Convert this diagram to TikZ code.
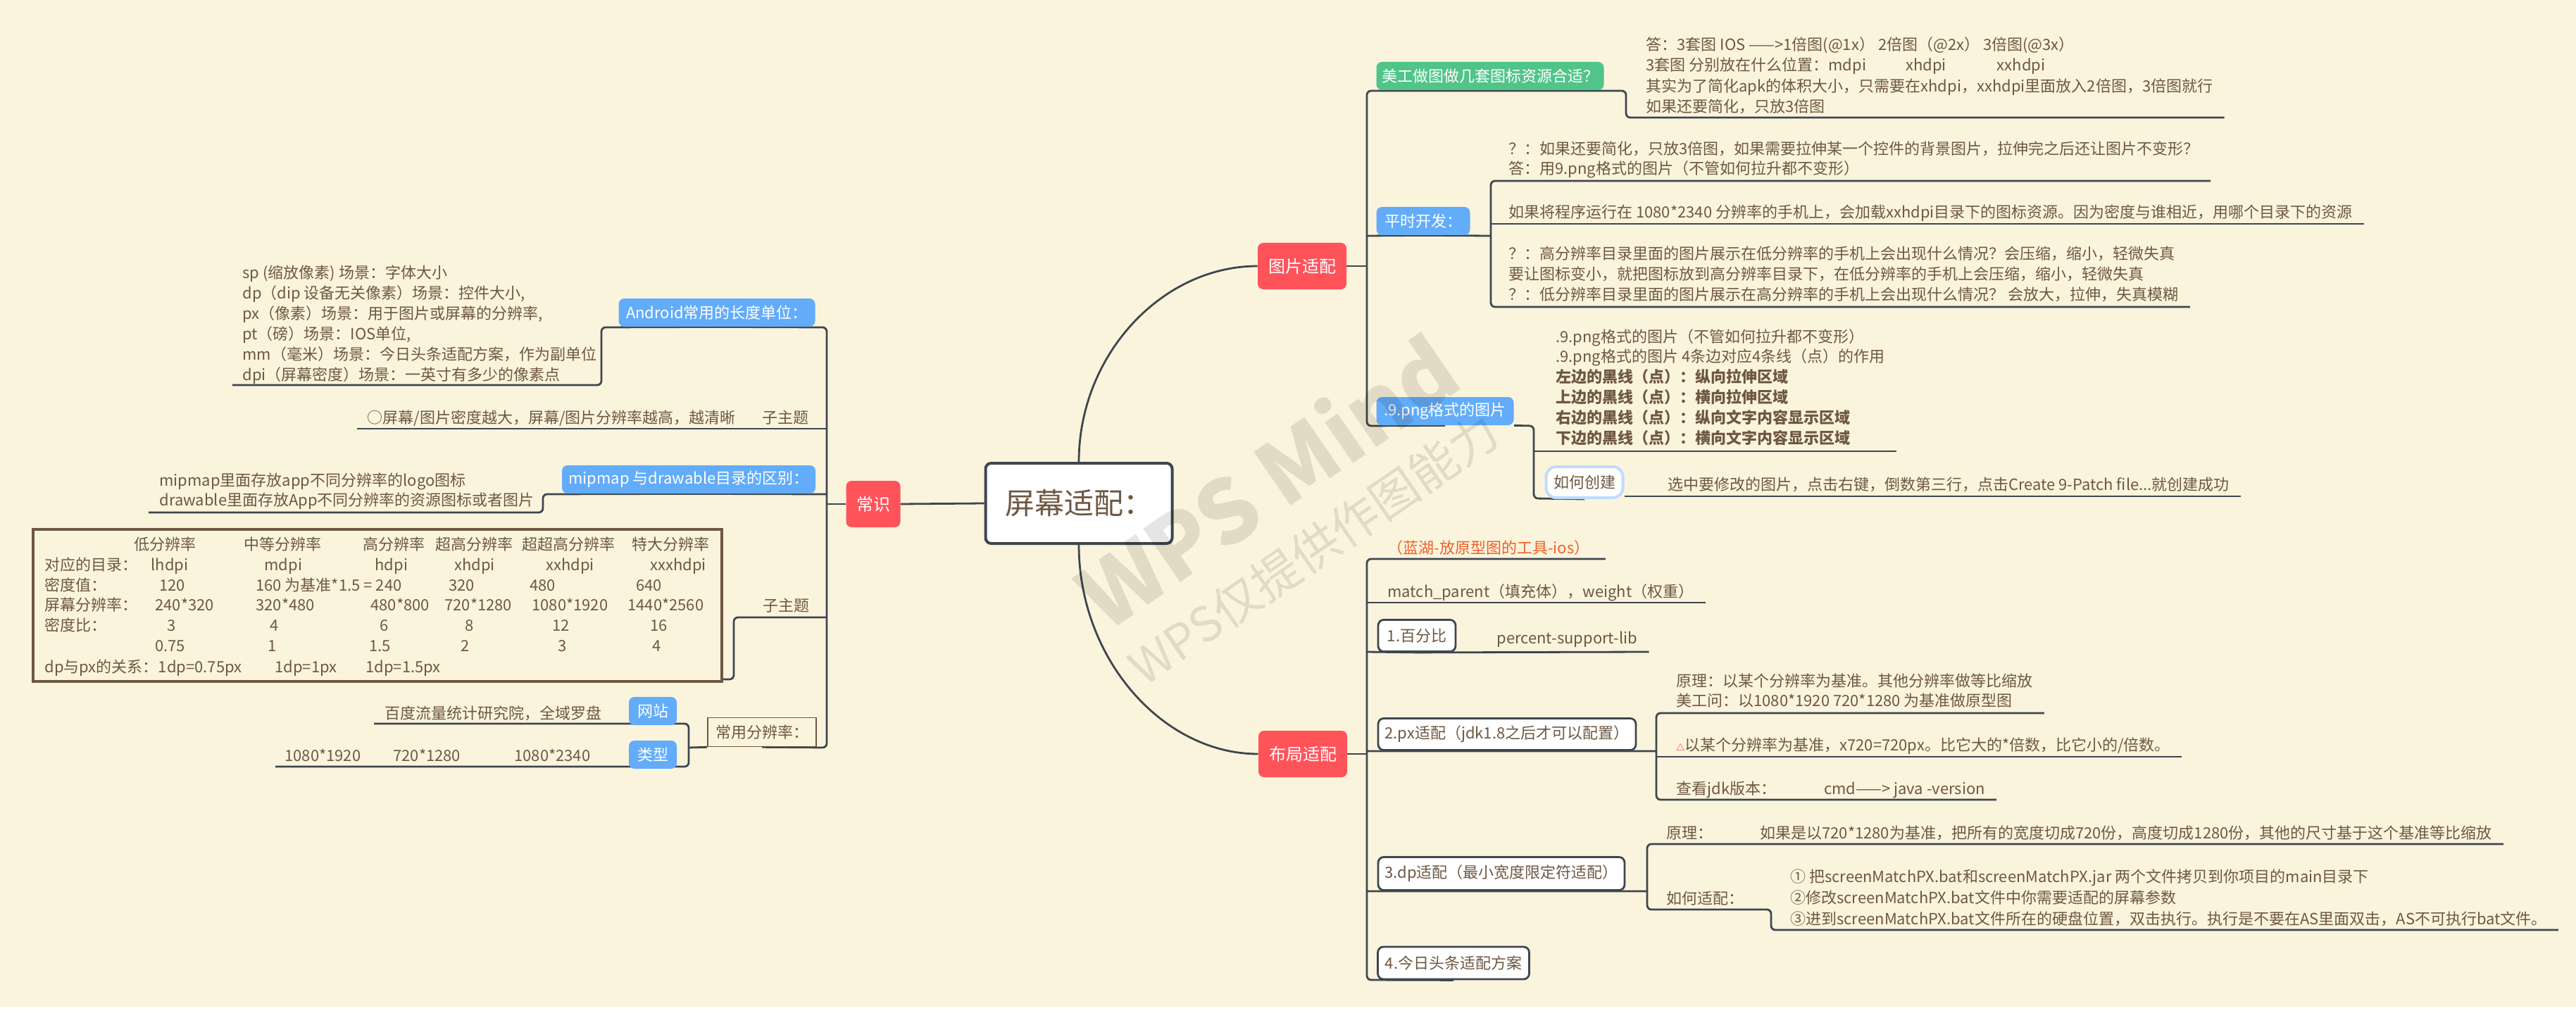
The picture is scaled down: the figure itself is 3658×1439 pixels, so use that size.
\documentclass[tikz,border=0pt]{standalone}
\usepackage{fontspec}
\setmainfont{Noto Sans CJK SC}
\usetikzlibrary{calc}

\definecolor{bgc}{RGB}{251,244,221}
\definecolor{lnk}{RGB}{62,70,78}
\definecolor{txt}{RGB}{110,88,66}
\definecolor{redc}{RGB}{255,83,90}
\definecolor{bluec}{RGB}{98,172,250}
\definecolor{greenc}{RGB}{80,196,137}
\definecolor{hlc}{RGB}{190,220,255}
\definecolor{orc}{RGB}{240,96,40}

\pgfdeclarelayer{bg}
\pgfdeclarelayer{edges}
\pgfdeclarelayer{wm}
\pgfsetlayers{bg,edges,main,wm}

\tikzset{
  link/.style={draw=lnk, line width=1.4pt, rounded corners=3pt},
  topic/.style={rounded corners=4pt, text=white, inner sep=0pt, font=\fontsize{11}{13}\selectfont},
  mainbox/.style={topic, fill=redc, minimum width=63pt, minimum height=33pt, font=\fontsize{12}{14}\selectfont},
  bluebox/.style={topic, fill=bluec, minimum height=20pt},
  greenbox/.style={topic, fill=greenc, minimum height=20pt},
  framebox/.style={topic, fill=white, draw=lnk, line width=1.4pt, text=txt, minimum height=22.5pt},
  leaf/.style={text=txt, font=\fontsize{11}{14.5}\selectfont, align=left, inner sep=0pt, anchor=base west},
  wmark/.style={rotate=34.6, text=black, opacity=0.1}
}

\begin{document}
\begin{tikzpicture}[x=0.5pt, y=-0.5pt]
\begin{pgfonlayer}{bg}
  \fill[white] (0,0) rectangle (3658,1439);
  \fill[bgc] (0,0) rectangle (3658,1430);
\end{pgfonlayer}
\useasboundingbox (0,0) rectangle (3658,1439);

% centre and main topics
\node[draw=lnk, fill=white, line width=2pt, rounded corners=4pt, minimum width=132.5pt, minimum height=57pt, inner sep=0pt, text=txt, font=\fontsize{21}{24}\selectfont] (root) at (1532,715) {屏幕适配：};
\node[mainbox] (pic) at (1849,378) {图片适配};
\node[mainbox] (lay) at (1850,1071) {布局适配};
\node[mainbox, minimum width=38.5pt] (cs) at (1240,716) {常识};

% 图片适配 (multi-line leaves sit on their last baseline)
\node[greenbox, minimum width=161.5pt] (art) at (2116,108) {美工做图做几套图标资源合适？};
\node[leaf, font=\fontsize{11}{14.75}\selectfont] (artA) at (2337,160) {答：3套图 IOS ——>1倍图(@1x） 2倍图（@2x） 3倍图(@3x）\\3套图 分别放在什么位置：mdpi\hspace{28pt}xhdpi\hspace{36pt}xxhdpi\\其实为了简化apk的体积大小，只需要在xhdpi，xxhdpi里面放入2倍图，3倍图就行\\如果还要简化，只放3倍图};
\node[bluebox, minimum width=66.5pt] (dev) at (2021,314) {平时开发：};
\node[leaf, font=\fontsize{11}{14}\selectfont] (devA) at (2142,248) {？：如果还要简化，只放3倍图，如果需要拉伸某一个控件的背景图片，拉伸完之后还让图片不变形？\\答：用9.png格式的图片（不管如何拉升都不变形）};
\node[leaf] (devB) at (2142,310) {如果将程序运行在 1080*2340 分辨率的手机上，会加载xxhdpi目录下的图标资源。因为密度与谁相近，用哪个目录下的资源};
\node[leaf] (devC) at (2142,426) {？：高分辨率目录里面的图片展示在低分辨率的手机上会出现什么情况？会压缩，缩小，轻微失真\\要让图标变小，就把图标放到高分辨率目录下，在低分辨率的手机上会压缩，缩小，轻微失真\\？：低分辨率目录里面的图片展示在高分辨率的手机上会出现什么情况？ 会放大，拉伸，失真模糊};
\node[bluebox, minimum width=97.5pt] (png) at (2052,584) {.9.png格式的图片};
\node[leaf, font=\fontsize{11}{14.4}\selectfont] (pngA) at (2209,630) {.9.png格式的图片（不管如何拉升都不变形）\\.9.png格式的图片 4条边对应4条线（点）的作用\\\textbf{左边的黑线（点）：纵向拉伸区域}\\\textbf{上边的黑线（点）：横向拉伸区域}\\\textbf{右边的黑线（点）：纵向文字内容显示区域}\\\textbf{下边的黑线（点）：横向文字内容显示区域}};
\node[topic, fill=white, draw=hlc, line width=2pt, rounded corners=7pt, text=txt, minimum width=54.5pt, minimum height=22pt] (make) at (2250,685) {如何创建};
\node[leaf] (makeA) at (2368,696) {选中要修改的图片，点击右键，倒数第三行，点击Create 9-Patch file...就创建成功};

% 布局适配
\node[leaf, text=orc] (lanhu) at (1970,786) {（蓝湖-放原型图的工具-ios）};
\node[leaf] (match) at (1970,848) {match\_parent（填充体），weight（权重）};
\node[framebox, minimum width=55pt] (pct) at (2012,903) {1.百分比};
\node[leaf] (pctA) at (2125,914) {percent-support-lib};
\node[framebox, minimum width=183pt] (px) at (2140,1043) {2.px适配（jdk1.8之后才可以配置）};
\node[leaf, font=\fontsize{11}{14}\selectfont] (pxA) at (2380,1003) {原理：以某个分辨率为基准。其他分辨率做等比缩放\\美工问：以1080*1920 720*1280 为基准做原型图};
\node[leaf] (pxB) at (2380,1066) {\textcolor{red}{\fontsize{6}{6}\selectfont △}以某个分辨率为基准，x720=720px。比它大的*倍数，比它小的/倍数。};
\node[leaf] (pxC) at (2380,1128) {查看jdk版本：\hspace{34pt}cmd——> java -version};
\node[framebox, minimum width=175pt, minimum height=23.5pt] (dp) at (2132,1241) {3.dp适配（最小宽度限定符适配）};
\node[leaf] (dpA) at (2366,1191) {原理：};
\node[leaf] (dpB) at (2499,1191) {如果是以720*1280为基准，把所有的宽度切成720份，高度切成1280份，其他的尺寸基于这个基准等比缩放};
\node[leaf] (dpC) at (2366,1284) {如何适配：};
\node[leaf, font=\fontsize{11}{15}\selectfont] (dpD) at (2542,1313) {① 把screenMatchPX.bat和screenMatchPX.jar 两个文件拷贝到你项目的main目录下\\②修改screenMatchPX.bat文件中你需要适配的屏幕参数\\③进到screenMatchPX.bat文件所在的硬盘位置，双击执行。执行是不要在AS里面双击，AS不可执行bat文件。};
\node[framebox, minimum width=107.5pt, minimum height=23pt] (tt) at (2064,1368) {4.今日头条适配方案};

% 常识
\node[bluebox, minimum width=139.5pt] (unit) at (1018,444) {Android常用的长度单位：};
\node[leaf] (unitA) at (344,540) {sp (缩放像素) 场景：字体大小\\dp（dip 设备无关像素）场景：控件大小,\\px（像素）场景：用于图片或屏幕的分辨率,\\pt（磅）场景：IOS单位,\\mm（毫米）场景：今日头条适配方案，作为副单位\\dpi（屏幕密度）场景：一英寸有多少的像素点};
\node[leaf] (sub1) at (1082,601) {子主题};
\node[leaf] (sub1A) at (521,601) {○屏幕/图片密度越大，屏幕/图片分辨率越高，越清晰};
\node[bluebox, minimum width=180pt] (mip) at (978,681) {mipmap 与drawable目录的区别：};
\node[leaf, font=\fontsize{11}{14}\selectfont] (mipA) at (226,718) {mipmap里面存放app不同分辨率的logo图标\\drawable里面存放App不同分辨率的资源图标或者图片};
\node[leaf] (sub2) at (1083,868) {子主题};
\node[draw=txt, line width=2pt, minimum width=489pt, minimum height=108pt, inner sep=0pt] (tbl) at (536,860) {};
\foreach \xx/\lbl [count=\i] in {190/低分辨率, 346/中等分辨率, 515/高分辨率, 618/超高分辨率, 741/超超高分辨率, 897/特大分辨率}
  \node[leaf] (ra\i) at (\xx,781) {\lbl};
\foreach \xx/\lbl [count=\i] in {63/对应的目录：, 214/lhdpi, 375/mdpi, 532/hdpi, 645/xhdpi, 775/xxhdpi, 923/xxxhdpi}
  \node[leaf] (rb\i) at (\xx,810) {\lbl};
\foreach \xx/\lbl [count=\i] in {63/密度值：, 226/120, 363/160 为基准*1.5 = 240, 637/320, 752/480, 903/640}
  \node[leaf] (rc\i) at (\xx,839) {\lbl};
\foreach \xx/\lbl [count=\i] in {63/屏幕分辨率：, 220/240*320, 363/320*480, 526/480*800, 631/720*1280, 755/1080*1920, 891/1440*2560}
  \node[leaf] (rd\i) at (\xx,867) {\lbl};
\foreach \xx/\lbl [count=\i] in {63/密度比：, 237/3, 383/4, 539/6, 660/8, 784/12, 923/16}
  \node[leaf] (re\i) at (\xx,896) {\lbl};
\foreach \xx/\lbl [count=\i] in {220/0.75, 380/1, 524/1.5, 654/2, 792/3, 926/4}
  \node[leaf] (rf\i) at (\xx,925) {\lbl};
\foreach \xx/\lbl [count=\i] in {63/dp与px的关系：1dp=0.75px, 390/1dp=1px, 519/1dp=1.5px}
  \node[leaf] (rg\i) at (\xx,955) {\lbl};
\node[topic, draw=txt, line width=0.8pt, rounded corners=0pt, text=txt, minimum width=77pt, minimum height=20.5pt] (res) at (1082,1040) {常用分辨率：};
\node[bluebox, minimum width=34pt] (web) at (927,1010) {网站};
\node[leaf] (webA) at (546,1021) {百度流量统计研究院，全域罗盘};
\node[bluebox, minimum width=34pt] (kind) at (927,1072) {类型};
\node[leaf] (kindA) at (404,1081) {1080*1920};
\node[leaf] (kindB) at (558,1081) {720*1280};
\node[leaf] (kindC) at (730,1081) {1080*2340};

% connectors
\begin{pgfonlayer}{edges}
  \draw[link] (root.north) .. controls (1532,504) and (1650,378) .. (pic.west);
  \draw[link] (root.south) .. controls (1532,936) and (1651,1071) .. (lay.west);
  \draw[link] (root.west) -- (cs.east);
  % 图片适配
  \draw[link] (pic.east) -- (1941,378);
  \draw[link] ($(artA.east |- 0,167)+(16,0)$) -- (2309,167) -- (2309,129) -- (1941,129) -- (1941,605) -- (png.south);
  \draw[link] (1941,335) -- (dev.south) -- (2117,335);
  \draw[link] ($(devA.east |- 0,257)+(16,0)$) -- (2117,257) -- (2117,436) -- ($(devC.east |- 0,436)+(16,0)$);
  \draw[link] (2117,318) -- ($(devB.east |- 0,318)+(16,0)$);
  \draw[link] (png.south east) -- (2178,605) -- (2178,708) -- (make.south);
  \draw[link] (2178,641) -- ($(pngA.east |- 0,641)+(16,0)$);
  \draw[link] (make.east |- 0,705) -- ($(makeA.east |- 0,705)+(16,0)$);
  % 布局适配
  \draw[link] (lay.east) -- (1941,1071);
  \draw[link] ($(lanhu.east |- 0,794)+(22,0)$) -- (1941,794) -- (1941,1392) -- (tt.south);
  \draw[link] (1941,856) -- ($(match.east |- 0,856)+(16,0)$);
  \draw[link] (1941,926) -- (pct.south) -- ($(pctA.east |- 0,926)+(16,0)$);
  \draw[link] (1941,1067) -- (px.south) -- (2352,1067);
  \draw[link] ($(pxA.east |- 0,1013)+(16,0)$) -- (2352,1013) -- (2352,1136) -- ($(pxC.east |- 0,1136)+(16,0)$);
  \draw[link] (2352,1075) -- ($(pxB.east |- 0,1075)+(16,0)$);
  \draw[link] (1941,1266) -- (dp.south) -- (2339,1266);
  \draw[link] ($(dpB.east |- 0,1199)+(16,0)$) -- (2339,1199) -- (2339,1292) -- (2515,1292) -- (2515,1321) -- ($(dpD.east |- 0,1321)+(16,0)$);
  % 常识
  \draw[link] (cs.west) -- (1174,716);
  \draw[link] ($(unitA.west |- 0,547)+(-14,0)$) -- (854,547) -- (854,465) -- (unit.south) -- (1174,465) -- (1174,1062) -- (res.south);
  \draw[link] (1174,609) -- ($(sub1A.west |- 0,609)+(-14,0)$);
  \draw[link] (1174,702) -- (mip.south) -- (771,702) -- (771,728) -- ($(mipA.west |- 0,728)+(-15,0)$);
  \draw[link] (1174,877) -- (1042,877) -- (1042,965) -- (tbl.east |- 0,965);
  \draw[link] (res.south west) -- (978,1062);
  \draw[link] ($(webA.west |- 0,1028)+(-15,0)$) -- (978,1028) -- (978,1089) -- ($(kindA.west |- 0,1089)+(-13,0)$);
\end{pgfonlayer}

% watermark
\begin{pgfonlayer}{wm}
  \node[wmark, font=\fontsize{62}{62}\selectfont\bfseries] (wmA) at (1798,682) {WPS Mind};
  \node[wmark, font=\fontsize{34}{34}\selectfont] (wmB) at (1865,780) {WPS仅提供作图能力};
\end{pgfonlayer}
\end{tikzpicture}
\end{document}
